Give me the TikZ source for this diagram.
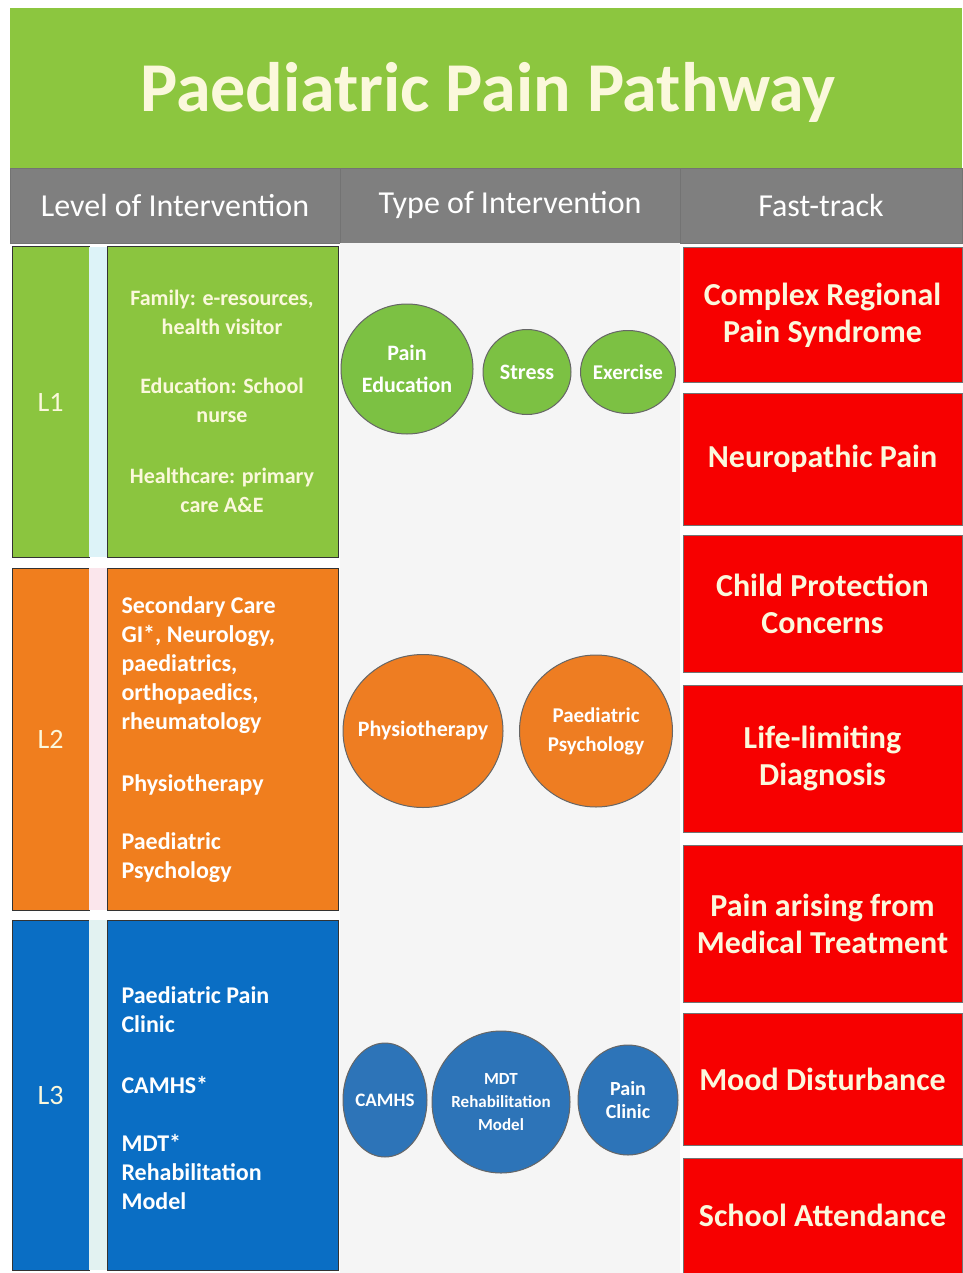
\documentclass[tikz,border=0pt]{standalone}
\usepackage{fontspec}
\setmainfont{Carlito}
\usetikzlibrary{shapes.geometric}
\definecolor{titlegreen}{HTML}{8CC63F}
\definecolor{hdrgray}{HTML}{7F7F7F}
\definecolor{lgreen}{HTML}{8BC53F}
\definecolor{cgreen}{HTML}{7CC143}
\definecolor{lorange}{HTML}{F07E1E}
\definecolor{corange}{HTML}{EE7D22}
\definecolor{lblue}{HTML}{0A6EC4}
\definecolor{cblue}{HTML}{2D74B8}
\definecolor{myred}{HTML}{F70000}
\definecolor{cream}{HTML}{FBF8DC}
\definecolor{panel}{HTML}{F5F5F5}
\definecolor{stripblue}{HTML}{DDF3F8}
\definecolor{strippink}{HTML}{FBE6EC}
\definecolor{stripteal}{HTML}{E2F2F1}
\begin{document}
\begin{tikzpicture}[x=1pt,y=-1pt,
  cell/.style={anchor=north west, inner sep=0pt, outer sep=0pt},
  hdrcell/.style={cell, fill=hdrgray, draw=black!55, line width=0.8pt, text=white, minimum height=75pt, font=\fontsize{32}{36}\selectfont},
  redbox/.style={cell, fill=myred, draw=black!55, line width=1pt, text=cream, minimum width=279pt, align=center, font=\bfseries\fontsize{32}{37}\selectfont},
  lvl/.style={cell, draw=black!80, line width=1pt, minimum width=77pt, text=cream, font=\fontsize{28}{32}\selectfont},
  strip/.style={cell, minimum width=18pt},
  txtcell/.style={cell, draw=black!80, line width=1pt, minimum width=231pt},
  grntxt/.style={text=cream, align=center, font=\bfseries\fontsize{22}{29}\selectfont},
  lefttxt/.style={text=white, align=left, anchor=west, font=\bfseries\fontsize{24}{29}\selectfont},
  circ/.style={ellipse, draw=black!60, line width=1pt, inner sep=0pt},
  ctext/.style={text=white, align=center, inner sep=0pt, font=\bfseries\fontsize{22}{32}\selectfont}
]
\useasboundingbox (0,0) rectangle (962,1273);
\fill[white] (0,0) rectangle (962,1273);
% title
\node[cell, fill=titlegreen, minimum width=952pt, minimum height=160pt] (title) at (10,8) {};
\node[text=cream, font=\bfseries\fontsize{70}{76}\selectfont] (ttext) at (488,92) {Paediatric Pain Pathway};
% header
\node[hdrcell, minimum width=330pt] (h1) at (10,168) {Level of Intervention};
\node[hdrcell, minimum width=340pt] (h2) at (340,168) {Type of Intervention};
\node[hdrcell, minimum width=282pt] (h3) at (680,168) {Fast-track};
% middle panel
\node[cell, fill=panel, minimum width=340pt, minimum height=1030pt] (mid) at (340,243) {};
% L1
\node[lvl, fill=lgreen, minimum height=310pt] (l1) at (12,247) {L1};
\node[strip, fill=stripblue, minimum height=310pt] (s1) at (89,247) {};
\node[txtcell, fill=lgreen, minimum height=310pt] (t1) at (107,247) {};
\node[grntxt] (t1a) at (222,312) {Family: e-resources,\\health visitor};
\node[grntxt] (t1b) at (222,400) {Education: School\\nurse};
\node[grntxt] (t1c) at (222,490) {Healthcare: primary\\care A\&E};
% L2
\node[lvl, fill=lorange, minimum height=342pt] (l2) at (12,568) {L2};
\node[strip, fill=strippink, minimum height=342pt] (s2) at (89,568) {};
\node[txtcell, fill=lorange, minimum height=342pt] (t2) at (107,568) {};
\node[lefttxt] (t2a) at (118,665) {Secondary Care\\GI*, Neurology,\\paediatrics,\\orthopaedics,\\rheumatology};
\node[lefttxt] (t2b) at (118,785) {Physiotherapy};
\node[lefttxt] (t2c) at (118,858) {Paediatric\\Psychology};
% L3
\node[lvl, fill=lblue, minimum height=350pt] (l3) at (12,920) {L3};
\node[strip, fill=stripteal, minimum height=350pt] (s3) at (89,920) {};
\node[txtcell, fill=lblue, minimum height=350pt] (t3) at (107,920) {};
\node[lefttxt] (t3a) at (118,1010) {Paediatric Pain\\Clinic};
\node[lefttxt] (t3b) at (118,1085) {CAMHS*};
\node[lefttxt] (t3c) at (118,1172) {MDT*\\Rehabilitation\\Model};
% circles L1
\node[circ, fill=cgreen, minimum width=132pt, minimum height=130pt,
  label={[ctext]center:{Pain\\Education}}] (c1) at (407,369) {};
\node[circ, fill=cgreen, minimum width=88pt, minimum height=85pt,
  label={[ctext]center:Stress}] (c2) at (527,372) {};
\node[circ, fill=cgreen, minimum width=95pt, minimum height=83pt,
  label={[ctext, font=\bfseries\fontsize{21}{25}\selectfont]center:Exercise}] (c3) at (628,372) {};
% circles L2
\node[circ, fill=corange, minimum width=160pt, minimum height=153pt,
  label={[ctext]center:Physiotherapy}] (c4) at (423,731) {};
\node[circ, fill=corange, minimum width=153pt, minimum height=152pt,
  label={[ctext, font=\bfseries\fontsize{21}{29}\selectfont]center:{Paediatric\\Psychology}}] (c5) at (596,731) {};
% circles L3
\node[circ, fill=cblue, minimum width=84pt, minimum height=114pt,
  label={[ctext, font=\bfseries\fontsize{19}{24}\selectfont]center:CAMHS}] (c6) at (385,1100) {};
\node[circ, fill=cblue, minimum width=138pt, minimum height=142pt,
  label={[ctext, font=\bfseries\fontsize{17}{23}\selectfont]center:{MDT\\Rehabilitation\\Model}}] (c7) at (501,1102) {};
\node[circ, fill=cblue, minimum width=100pt, minimum height=110pt,
  label={[ctext, font=\bfseries\fontsize{20}{23}\selectfont]center:{Pain\\Clinic}}] (c8) at (628,1100) {};
% red fast-track boxes
\node[redbox, minimum height=134pt] (r1) at (683,248) {Complex Regional\\Pain Syndrome};
\node[redbox, minimum height=132pt] (r2) at (683,393) {Neuropathic Pain};
\node[redbox, minimum height=137pt] (r3) at (683,535) {Child Protection\\Concerns};
\node[redbox, minimum height=147pt] (r4) at (683,685) {Life-limiting\\Diagnosis};
\node[redbox, minimum height=157pt] (r5) at (683,845) {Pain arising from\\Medical Treatment};
\node[redbox, minimum height=132pt] (r6) at (683,1013) {Mood Disturbance};
\node[redbox, minimum height=115pt] (r7) at (683,1158) {School Attendance};
\end{tikzpicture}
\end{document}
